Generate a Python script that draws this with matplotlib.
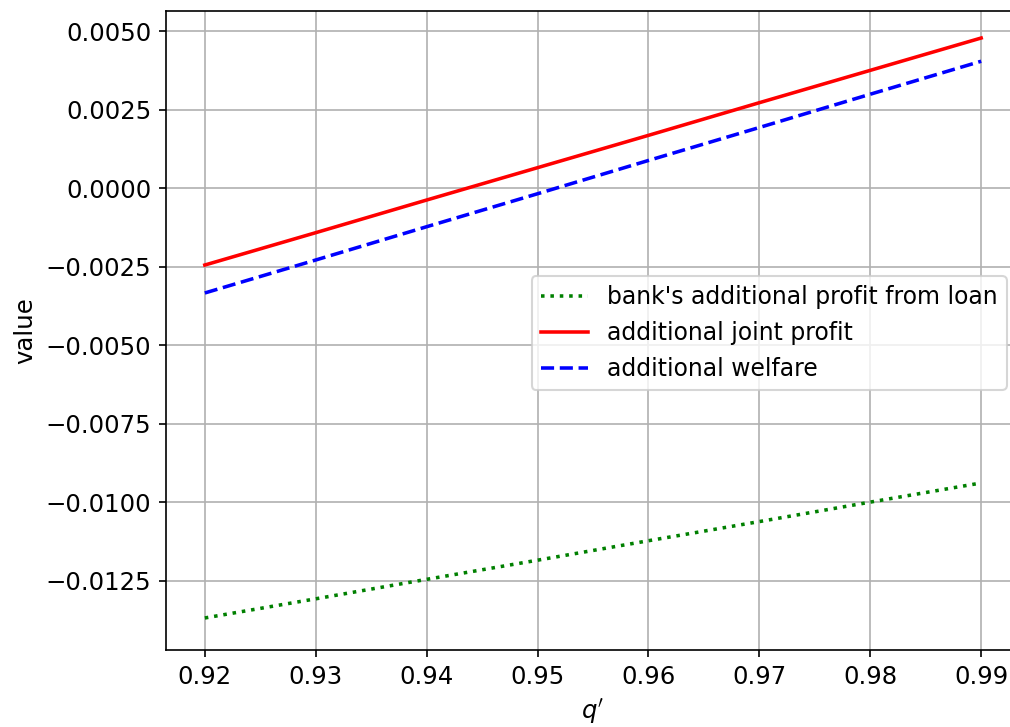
import matplotlib
matplotlib.use("Agg")
import matplotlib.pyplot as plt

q = [0.92, 0.93, 0.94, 0.95, 0.96, 0.97, 0.98, 0.99]
bank_profit = [-0.01369, -0.01308, -0.01246, -0.01185, -0.01123, -0.01062, -0.01000, -0.00939]
joint_profit = [-0.00245, -0.00142, -0.00038, 0.00065, 0.00168, 0.00272, 0.00375, 0.00478]
welfare = [-0.00334, -0.00229, -0.00123, -0.00018, 0.00088, 0.00193, 0.00299, 0.00404]
labels = ["bank's additional profit from loan", "additional joint profit", "additional welfare"]

plt.rcParams['font.size'] = 11.7

fig = plt.figure(figsize=(1010 / 150, 727 / 150), dpi=150)
ax = fig.add_axes([166 / 1010, 1 - 650 / 727, (1020 - 166) / 1010, (650 - 11) / 727])

ax.plot(q, bank_profit, color='green', linestyle=':', linewidth=1.7, label=labels[0])
ax.plot(q, joint_profit, color='red', linestyle='-', linewidth=1.7, label=labels[1])
ax.plot(q, welfare, color='blue', linestyle='--', linewidth=1.7, label=labels[2])

ax.set_xlim(0.9165, 0.9935)
ax.set_ylim(-0.01471, 0.00564)
ax.set_xlabel("$q'$")
ax.set_ylabel("value")
ax.grid(True)
ax.legend(loc='center right', fontsize=11.3, borderaxespad=0,
          bbox_to_anchor=(1007 / 1010, 1 - 333 / 727), bbox_transform=fig.transFigure)

fig.savefig("out.png", dpi=150)
